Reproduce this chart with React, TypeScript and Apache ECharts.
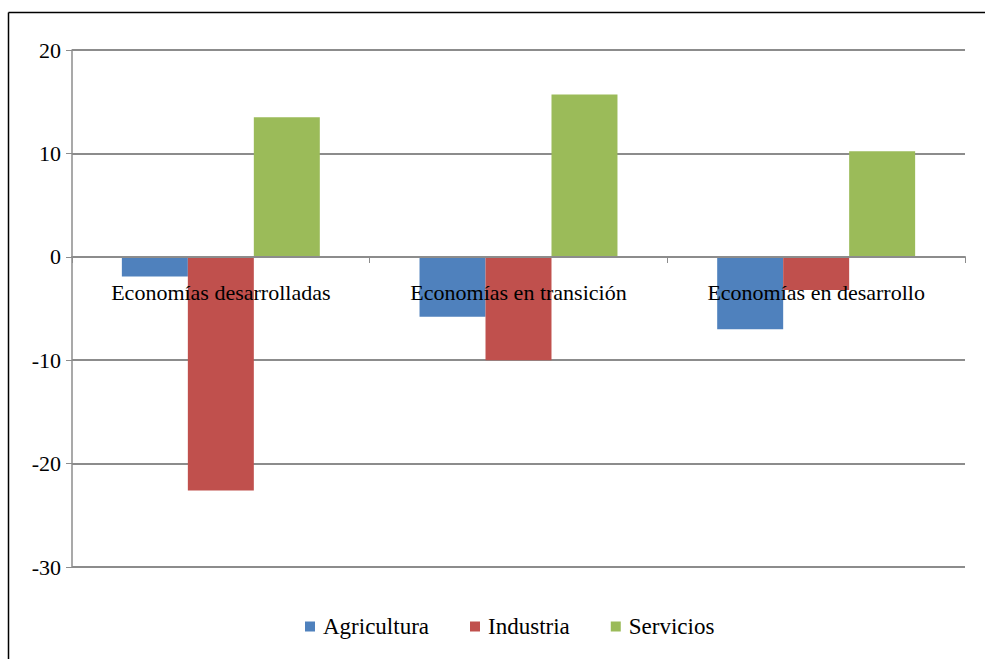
import React, { useEffect, useRef } from "react";
import * as echarts from "echarts";

const categories = [
  "Economías desarrolladas",
  "Economías en transición",
  "Economías en desarrollo",
];
const agricultura = [-1.9, -5.8, -7.0];
const industria = [-22.6, -10.0, -3.2];
const servicios = [13.5, 15.7, 10.2];

const FONT = "Liberation Serif";
const GRID_COLOR = "#8c8c8c";

export default function App() {
  const ref = useRef<HTMLDivElement>(null);

  useEffect(() => {
    if (!ref.current) return;
    const chart = echarts.init(ref.current, null, { renderer: "svg" });
    const bar = (name: string, data: number[], color: string) => ({
      name,
      type: "bar",
      data,
      barGap: "0%",
      barCategoryGap: "33.5%",
      itemStyle: { color },
    });
    chart.setOption({
      animation: false,
      backgroundColor: "#ffffff",
      textStyle: { fontFamily: FONT },
      grid: {
        left: 72,
        right: 20,
        top: 50,
        bottom: 92,
        outerBoundsMode: "none",
      },
      legend: {
        bottom: 16,
        left: 300,
        icon: "rect",
        itemWidth: 10,
        itemHeight: 10,
        itemGap: 41,
        textStyle: {
          fontFamily: FONT,
          fontSize: 23,
          color: "#000",
          padding: [0, 0, 0, 3],
        },
        data: ["Agricultura", "Industria", "Servicios"],
      },
      xAxis: {
        type: "category",
        data: categories,
        // category axis sits on the zero line (3/5 of the way down from the top)
        offset: -310,
        axisLine: { onZero: false, lineStyle: { color: GRID_COLOR, width: 2 } },
        axisTick: { show: true, length: 6, lineStyle: { color: GRID_COLOR, width: 1 } },
        axisLabel: {
          fontFamily: FONT,
          fontSize: 22,
          color: "#000",
          margin: 24,
          interval: 0,
        },
        z: 10,
      },
      yAxis: {
        type: "value",
        min: -30,
        max: 20,
        interval: 10,
        axisLine: { show: true, lineStyle: { color: GRID_COLOR, width: 1.5 } },
        axisTick: { show: true, length: 6, lineStyle: { color: GRID_COLOR } },
        axisLabel: { fontFamily: FONT, fontSize: 22, color: "#000", margin: 11 },
        splitLine: { show: true, lineStyle: { color: GRID_COLOR, width: 2 } },
      },
      graphic: [
        {
          type: "line",
          shape: { x1: 8.5, y1: 12.5, x2: 985, y2: 12.5 },
          style: { stroke: "#000", lineWidth: 1.5 },
        },
        {
          type: "line",
          shape: { x1: 8.5, y1: 12.5, x2: 8.5, y2: 659 },
          style: { stroke: "#000", lineWidth: 1.5 },
        },
      ],
      series: [
        bar("Agricultura", agricultura, "#4f81bd"),
        bar("Industria", industria, "#c0504d"),
        bar("Servicios", servicios, "#9bbb59"),
      ],
    });
    return () => chart.dispose();
  }, []);

  return (
    <div
      ref={ref}
      style={{ position: "absolute", left: 0, top: 0, width: 985, height: 659 }}
    />
  );
}
